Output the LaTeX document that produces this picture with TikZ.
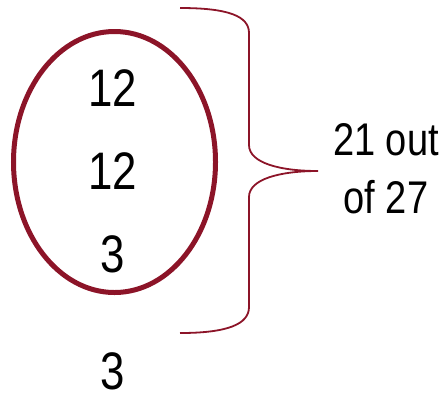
\documentclass[tikz,border=0pt]{standalone}
\usepackage{fontspec}
\setmainfont{Liberation Sans}[FakeStretch=0.83]
\usetikzlibrary{shapes,% ellipse nodes
positioning}
\definecolor{wine}{RGB}{140,20,40}
\tikzset{every node/.style={font=\fontsize{53}{60}\selectfont, inner sep=0pt},
  total/.style={font=\fontsize{46}{55}\selectfont, anchor=base}}

\begin{document}
\begin{tikzpicture}[x=1bp, y=-1bp]
  \useasboundingbox (0,0) rectangle (446,394);
  \node[ellipse, draw=wine, line width=5bp, minimum width=202bp, minimum height=261bp] (ring) at (114.5,162) {};
  \foreach \y/\n/\name in {106/12/a, 189/12/b, 272/3/c, 389/3/d}
    \node[anchor=base] (\name) at (113,\y) {\n};
  % brace round the first three
  \draw[wine, line width=1.8bp] (180,8) .. controls (228,8) and (249,16) .. (249,33) -- (249,145)
    .. controls (249,163) and (280,171) .. (318,171) coordinate (tip)
    .. controls (280,171) and (249,179) .. (249,197) -- (249,307)
    .. controls (249,324) and (228,333) .. (180,333);
  \node[total] (out) at (386,155) {21 out};
  \node[total] (of) at (386,213) {of 27};
\end{tikzpicture}
\end{document}
